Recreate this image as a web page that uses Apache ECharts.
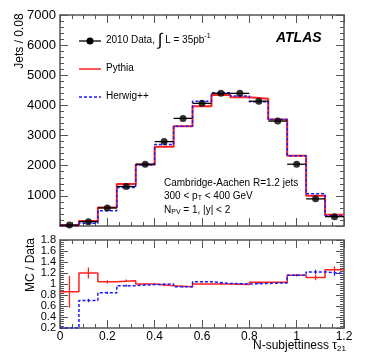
<!DOCTYPE html>
<html>
<head>
<meta charset="utf-8">
<script src="https://cdn.jsdelivr.net/npm/echarts@6/dist/echarts.min.js"></script>
<style>
html, body { margin: 0; padding: 0; background: #fff; }
#chart { width: 374px; height: 359px; }
</style>
</head>
<body>
<div id="chart"></div>
<script>
// bin edges of N-subjettiness tau21 (bin width 0.08)
var binEdges = [0, 0.08, 0.16, 0.24, 0.32, 0.40, 0.48, 0.56, 0.64, 0.72, 0.80, 0.88, 0.96, 1.04, 1.12, 1.20];
var binCenters = [0.04, 0.12, 0.20, 0.28, 0.36, 0.44, 0.52, 0.60, 0.68, 0.76, 0.84, 0.92, 1.00, 1.08, 1.16];

// jets per bin
var dataJets = [30, 145, 600, 1310, 2050, 2800, 3570, 4070, 4400, 4400, 4140, 3480, 2050, 900, 310];
var pythiaJets = [25, 170, 610, 1390, 2040, 2630, 3310, 3970, 4345, 4270, 4220, 3530, 2330, 1000, 370];
var herwigJets = [10, 95, 510, 1280, 2020, 2700, 3310, 4140, 4420, 4310, 4120, 3530, 2330, 1070, 340];

// MC / Data
var pythiaRatio = [0.86, 1.20, 1.04, 1.06, 1.00, 0.97, 0.95, 1.00, 1.00, 0.99, 1.03, 1.03, 1.16, 1.12, 1.26];
var pythiaRatioErr = [0.29, 0.10, 0.03, 0.02, 0.01, 0.01, 0.01, 0.01, 0.01, 0.01, 0.01, 0.01, 0.02, 0.05, 0.06];
var herwigRatio = [0.20, 0.70, 0.84, 0.97, 0.99, 1.00, 0.95, 1.04, 1.01, 1.00, 1.01, 1.02, 1.16, 1.22, 1.19];
var herwigRatioErr = [0, 0.03, 0.02, 0.02, 0.01, 0.01, 0.01, 0.01, 0.01, 0.01, 0.01, 0.01, 0.02, 0.04, 0.04];

var mainTicks = [0, 1000, 2000, 3000, 4000, 5000, 6000, 7000];
var ratioTicks = [0.2, 0.4, 0.6, 0.8, 1, 1.2, 1.4, 1.6, 1.8];
var xTicks = [0, 0.2, 0.4, 0.6, 0.8, 1, 1.2];

var FONT = 'Liberation Sans';

// histogram outline from the bin edges
function stepPoints(vals) {
    var pts = [];
    for (var i = 0; i < vals.length; i++) pts.push([binEdges[i], vals[i]]);
    pts.push([binEdges[binEdges.length - 1], vals[vals.length - 1]]);
    return pts;
}

function xAxisDef(grid, pos, showLabels) {
    return {
        type: 'value', gridIndex: grid, position: pos,
        min: xTicks[0], max: xTicks[xTicks.length - 1], interval: 0.2,
        axisLine: { show: true, onZero: false, lineStyle: { color: '#555', width: 1.5 } },
        axisTick: { show: true, inside: true, length: 8, lineStyle: { color: '#555' } },
        minorTick: { show: true, splitNumber: 4, length: 4, lineStyle: { color: '#555' } },
        splitLine: { show: false },
        axisLabel: {
            show: showLabels, color: '#000', fontFamily: FONT, fontSize: 12, margin: 3,
            formatter: function (v) { return String(+v.toFixed(1)); }
        }
    };
}

function yAxisDef(grid, pos, ticks, showLabels, fontSize, fmt) {
    return {
        type: 'value', gridIndex: grid, position: pos,
        min: ticks[0], max: ticks[ticks.length - 1], interval: ticks[1] - ticks[0],
        axisLine: { show: true, onZero: false, lineStyle: { color: '#555', width: 1.5 } },
        axisTick: { show: true, inside: true, length: 8, lineStyle: { color: '#555' } },
        minorTick: { show: true, splitNumber: 5, length: 4, lineStyle: { color: '#555' } },
        splitLine: { show: false },
        axisLabel: { show: showLabels, color: '#000', fontFamily: FONT, fontSize: fontSize, margin: 4, formatter: fmt }
    };
}

// horizontal / vertical error bars drawn through the axes
function errorSeries(xi, yi, items, color, width, z) {
    return {
        type: 'custom', xAxisIndex: xi, yAxisIndex: yi, z: z,
        data: items,
        renderItem: function (params, api) {
            var x0 = api.coord([api.value(0), api.value(2)]);
            var x1 = api.coord([api.value(1), api.value(2)]);
            var y0 = api.coord([api.value(3), api.value(4)]);
            var y1 = api.coord([api.value(3), api.value(5)]);
            return {
                type: 'group',
                children: [
                    { type: 'line', shape: { x1: x0[0], y1: x0[1], x2: x1[0], y2: x1[1] }, style: { stroke: color, lineWidth: width } },
                    { type: 'line', shape: { x1: y0[0], y1: y0[1], x2: y1[0], y2: y1[1] }, style: { stroke: color, lineWidth: width } }
                ]
            };
        }
    };
}

var dataErr = dataJets.map(function (v, i) {
    return [binEdges[i], binEdges[i + 1], v, binCenters[i], v, v];
});
var pythiaErr = pythiaRatio.map(function (v, i) {
    return [binCenters[i], binCenters[i], v, binCenters[i], v - pythiaRatioErr[i], v + pythiaRatioErr[i]];
});
var herwigErr = herwigRatio.map(function (v, i) {
    return [binCenters[i], binCenters[i], v, binCenters[i], v - herwigRatioErr[i], v + herwigRatioErr[i]];
});

var myChart = echarts.init(document.getElementById('chart'));

var option = {
    backgroundColor: '#fff',
    animation: false,
    grid: [
        { left: 60, right: 30, top: 15, height: 211 },
        { left: 60, right: 30, top: 240, height: 88 }
    ],
    xAxis: [
        xAxisDef(0, 'bottom', false),
        xAxisDef(0, 'top', false),
        xAxisDef(1, 'bottom', true),
        xAxisDef(1, 'top', false)
    ],
    yAxis: [
        yAxisDef(0, 'left', mainTicks, true, 13, function (v) { return v === 0 ? '' : String(v); }),
        yAxisDef(0, 'right', mainTicks, false, 13),
        yAxisDef(1, 'left', ratioTicks, true, 11, function (v) { return String(+v.toFixed(1)); }),
        yAxisDef(1, 'right', ratioTicks, false, 11)
    ],
    series: [
        {
            name: 'Pythia', type: 'line', step: 'end', xAxisIndex: 0, yAxisIndex: 0,
            data: stepPoints(pythiaJets), showSymbol: false, z: 2,
            lineStyle: { color: '#ff2020', width: 2 }
        },
        {
            name: 'Herwig++', type: 'line', step: 'end', xAxisIndex: 0, yAxisIndex: 0,
            data: stepPoints(herwigJets), showSymbol: false, z: 3,
            lineStyle: { color: '#1a1aff', width: 1.5, type: [3, 2] }
        },
        errorSeries(0, 0, dataErr, '#000', 1.3, 4),
        {
            name: '2010 Data', type: 'scatter', xAxisIndex: 0, yAxisIndex: 0, z: 5,
            data: binCenters.map(function (x, i) { return [x, dataJets[i]]; }),
            symbol: 'circle', symbolSize: 7, itemStyle: { color: '#000' }
        },
        {
            type: 'line', step: 'end', xAxisIndex: 2, yAxisIndex: 2,
            data: stepPoints(pythiaRatio), showSymbol: false, z: 2,
            lineStyle: { color: '#ff2020', width: 1.5 }
        },
        errorSeries(2, 2, pythiaErr, '#ff2020', 1.3, 2),
        {
            type: 'line', step: 'end', xAxisIndex: 2, yAxisIndex: 2,
            data: stepPoints(herwigRatio), showSymbol: false, z: 3,
            lineStyle: { color: '#1a1aff', width: 1.5, type: [3, 2] }
        },
        errorSeries(2, 2, herwigErr, '#1a1aff', 1.2, 3)
    ],
    graphic: [
        // axis titles
        { type: 'text', x: 20, y: 41, rotation: Math.PI / 2,
          style: { text: 'Jets / 0.08', font: '12px "Liberation Sans"', fill: '#000', align: 'center', verticalAlign: 'middle' } },
        { type: 'text', x: 31, y: 265, rotation: Math.PI / 2,
          style: { text: 'MC / Data', font: '12px "Liberation Sans"', fill: '#000', align: 'center', verticalAlign: 'middle' } },
        { type: 'text', x: 346, y: 346,
          style: { text: 'N-subjettiness τ{sub|21}', font: '12px "Liberation Sans"', fill: '#000', align: 'right', verticalAlign: 'middle',
                   rich: { sub: { fontSize: 8, fontFamily: FONT, padding: [5, 0, 0, 0] } } } },
        // legend
        { type: 'line', shape: { x1: 79, y1: 41, x2: 101, y2: 41 }, style: { stroke: '#000', lineWidth: 1.3 } },
        { type: 'circle', shape: { cx: 90, cy: 41, r: 3.5 }, style: { fill: '#000' } },
        { type: 'text', x: 106, y: 40,
          style: { text: '2010 Data, {int|∫} L = 35pb{sup|-1}', font: '10px "Liberation Sans"', fill: '#000', verticalAlign: 'middle',
                   rich: { int: { fontSize: 17, fontFamily: FONT }, sup: { fontSize: 7, fontFamily: FONT, padding: [0, 0, 8, 0] } } } },
        { type: 'line', shape: { x1: 79, y1: 69, x2: 101, y2: 69 }, style: { stroke: '#ff2020', lineWidth: 1.5 } },
        { type: 'text', x: 106, y: 68,
          style: { text: 'Pythia', font: '10px "Liberation Sans"', fill: '#000', verticalAlign: 'middle' } },
        { type: 'line', shape: { x1: 79, y1: 97, x2: 101, y2: 97 }, style: { stroke: '#1a1aff', lineWidth: 1.5, lineDash: [3, 2] } },
        { type: 'text', x: 106, y: 96,
          style: { text: 'Herwig++', font: '10px "Liberation Sans"', fill: '#000', verticalAlign: 'middle' } },
        // ATLAS label
        { type: 'text', x: 276, y: 38,
          style: { text: 'ATLAS', font: 'italic bold 14px "Liberation Sans"', fill: '#000', verticalAlign: 'middle' } },
        // selection
        { type: 'text', x: 164, y: 183,
          style: { text: 'Cambridge-Aachen R=1.2 jets', font: '10px "Liberation Sans"', fill: '#000', verticalAlign: 'middle' } },
        { type: 'text', x: 164, y: 196,
          style: { text: '300 < p{sub|T} < 400 GeV', font: '10px "Liberation Sans"', fill: '#000', verticalAlign: 'middle',
                   rich: { sub: { fontSize: 7, fontFamily: FONT, padding: [5, 0, 0, 0] } } } },
        { type: 'text', x: 164, y: 210,
          style: { text: 'N{sub|PV} = 1, |y| < 2', font: '10px "Liberation Sans"', fill: '#000', verticalAlign: 'middle',
                   rich: { sub: { fontSize: 7, fontFamily: FONT, padding: [5, 0, 0, 0] } } } }
    ]
};

myChart.setOption(option);
</script>
</body>
</html>
